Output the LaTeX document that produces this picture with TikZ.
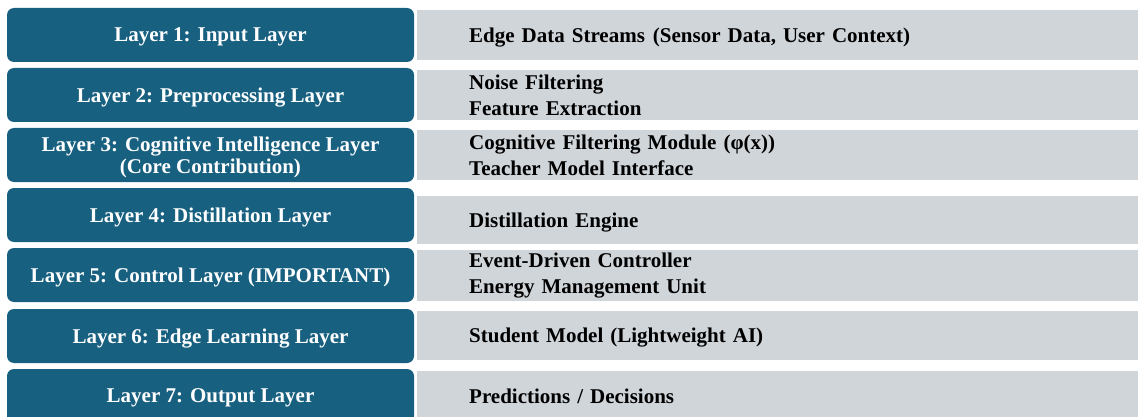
\documentclass[tikz,border=0pt]{standalone}
\usepackage{fontspec}
\setmainfont{Liberation Serif}
\definecolor{layerblue}{RGB}{24,96,128}
\definecolor{descgrey}{RGB}{208,213,218}
\begin{document}
\begin{tikzpicture}[x=1pt, y=-1pt,
	layerbox/.style={fill=layerblue, text=white, rounded corners=7pt, minimum width=407pt, minimum height=54pt, inner sep=0pt, text depth=0pt, align=center, font=\fontsize{21}{22}\selectfont\bfseries},
	descbox/.style={fill=descgrey, anchor=west, text width=617pt, inner xsep=52pt, inner ysep=0pt, align=left, font=\fontsize{21}{26}\selectfont\bfseries},
	oneline/.style={text depth=0pt}]
	\useasboundingbox (0,0) rectangle (1138,417);
	\node[layerbox] (lay1) at (210.5,35) {Layer 1: Input Layer};
	\node[layerbox] (lay2) at (210.5,95) {Layer 2: Preprocessing Layer};
	\node[layerbox] (lay3) at (210.5,155) {Layer 3: Cognitive Intelligence Layer\\(Core Contribution)};
	\node[layerbox] (lay4) at (210.5,215) {Layer 4: Distillation Layer};
	\node[layerbox] (lay5) at (210.5,275) {Layer 5: Control Layer (IMPORTANT)};
	\node[layerbox] (lay6) at (210.5,336) {Layer 6: Edge Learning Layer};
	\node[layerbox] (lay7) at (210.5,396) {Layer 7: Output Layer};
	\node[descbox, oneline, minimum height=50pt] (desc1) at (417,35) {Edge Data Streams\hspace{8pt}(Sensor Data, User Context)};
	\node[descbox, minimum height=50pt] (desc2) at (417,95) {Noise Filtering\\Feature Extraction};
	\node[descbox, minimum height=50pt] (desc3) at (417,155) {Cognitive Filtering Module (φ(x))\\Teacher Model Interface};
	\node[descbox, oneline, minimum height=48pt] (desc4) at (417,220) {Distillation Engine};
	\node[descbox, minimum height=51pt] (desc5) at (417,275.5) {Event-Driven Controller\\Energy Management Unit};
	\node[descbox, oneline, minimum height=49pt] (desc6) at (417,335.5) {Student Model (Lightweight AI)};
	\node[descbox, oneline, minimum height=50pt] (desc7) at (417,396) {Predictions / Decisions};
\end{tikzpicture}
\end{document}
